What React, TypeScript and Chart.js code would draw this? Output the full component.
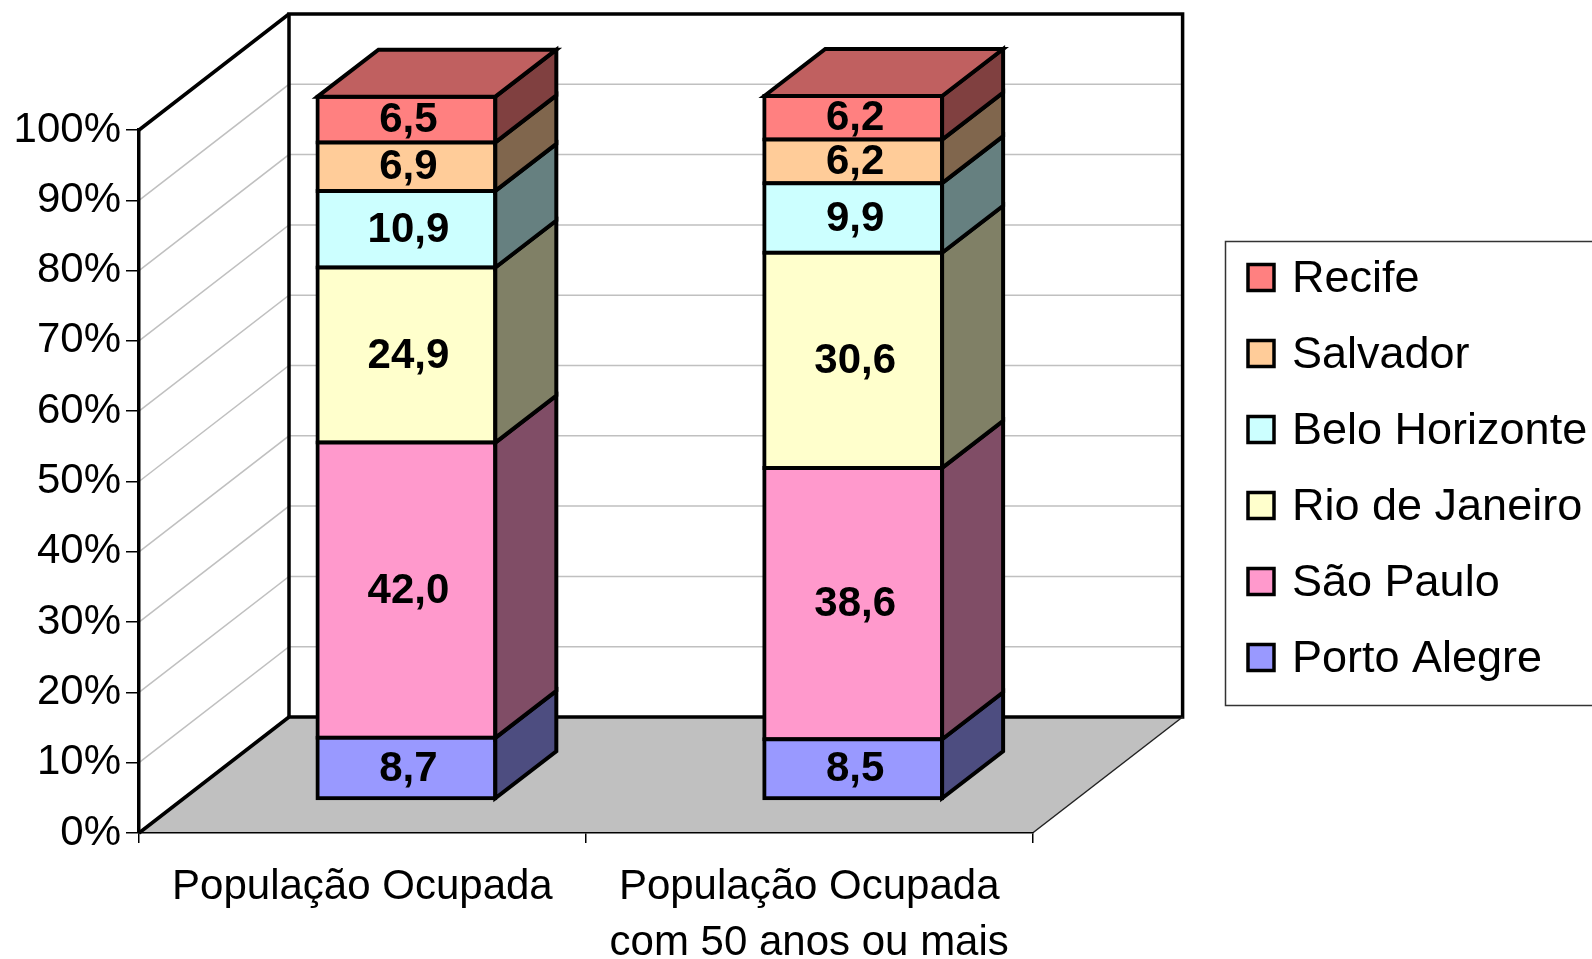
import React, { useEffect, useRef } from 'react';
import { Chart, registerables } from 'chart.js';

Chart.register(...registerables);

// ---------- data ----------
const categories = [['População Ocupada'], ['População Ocupada', 'com 50 anos ou mais']];
const cities = ['Porto Alegre', 'São Paulo', 'Rio de Janeiro', 'Belo Horizonte', 'Salvador', 'Recife'];
const portoAlegre = [8.7, 8.5];
const saoPaulo = [42.0, 38.6];
const rioDeJaneiro = [24.9, 30.6];
const beloHorizonte = [10.9, 9.9];
const salvador = [6.9, 6.2];
const recife = [6.5, 6.2];
const seriesValues = [portoAlegre, saoPaulo, rioDeJaneiro, beloHorizonte, salvador, recife];
const yTicks = [0, 10, 20, 30, 40, 50, 60, 70, 80, 90, 100];

// ---------- styles ----------
const frontColors = ['#9999FF', '#FF99CC', '#FFFFCC', '#CCFFFF', '#FFCC99', '#FF8080'];
const sideColors = ['#4D4D80', '#804D66', '#808066', '#668080', '#80664D', '#804040'];
const topColor = '#C06060';
const FONT = "'Liberation Sans', Arial, sans-serif";

const W = 1592;
const H = 959;
const WALL_DX = 150;
const WALL_DY = -116;
const BAR_SHIFT_X = 44;
const BAR_SHIFT_Y = -34;
const BAR_DX = 61;
const BAR_DY = -47;
const BORDER = 4;
const WALL_BORDER = 3.5;

function fmt(v: number) {
  return v.toFixed(1).replace('.', ',');
}

const threeD = {
  id: 'threeD',
  beforeDraw(chart: any) {
    const { ctx } = chart;
    const x = chart.scales.x;
    const y = chart.scales.y;
    const L = x.left;
    const R = x.right;
    const y0 = y.getPixelForValue(0);
    const yT = y.getPixelForValue(100);
    ctx.save();
    ctx.fillStyle = '#ffffff';
    ctx.fillRect(0, 0, W, H);
    // floor
    ctx.fillStyle = '#C0C0C0';
    ctx.beginPath();
    ctx.moveTo(L, y0);
    ctx.lineTo(R, y0);
    ctx.lineTo(R + WALL_DX, y0 + WALL_DY);
    ctx.lineTo(L + WALL_DX, y0 + WALL_DY);
    ctx.closePath();
    ctx.fill();
    // gridlines on side and back walls
    ctx.strokeStyle = '#C0C0C0';
    ctx.lineWidth = 1.5;
    for (const v of yTicks) {
      if (v === 0 || v === 100) continue;
      const py = y.getPixelForValue(v);
      ctx.beginPath();
      ctx.moveTo(L, py);
      ctx.lineTo(L + WALL_DX, py + WALL_DY);
      ctx.lineTo(R + WALL_DX, py + WALL_DY);
      ctx.stroke();
    }
    // walls outline
    ctx.strokeStyle = '#000';
    ctx.lineWidth = WALL_BORDER;
    ctx.lineJoin = 'miter';
    ctx.strokeRect(L + WALL_DX, yT + WALL_DY, R - L, y0 - yT);
    ctx.beginPath();
    ctx.moveTo(L, yT);
    ctx.lineTo(L + WALL_DX, yT + WALL_DY);
    ctx.moveTo(L, y0);
    ctx.lineTo(L + WALL_DX, y0 + WALL_DY);
    ctx.stroke();
    ctx.lineWidth = 1.5;
    ctx.strokeStyle = '#222';
    ctx.beginPath();
    ctx.moveTo(R, y0);
    ctx.lineTo(R + WALL_DX, y0 + WALL_DY);
    ctx.stroke();
    ctx.restore();
  },
  beforeDatasetsDraw(chart: any) {
    chart.ctx.save();
    chart.ctx.translate(BAR_SHIFT_X, BAR_SHIFT_Y);
  },
  afterDatasetsDraw(chart: any) {
    const { ctx } = chart;
    const n = chart.data.datasets.length;
    ctx.lineWidth = BORDER;
    ctx.strokeStyle = '#000';
    ctx.lineJoin = 'miter';
    for (let i = 0; i < n; i++) {
      const meta = chart.getDatasetMeta(i);
      meta.data.forEach((el: any) => {
        const p = el.getProps(['x', 'y', 'base', 'width'], true);
        const left = p.x - p.width / 2;
        const right = p.x + p.width / 2;
        const top = Math.min(p.y, p.base);
        const bot = Math.max(p.y, p.base);
        ctx.fillStyle = sideColors[i];
        ctx.beginPath();
        ctx.moveTo(right, top);
        ctx.lineTo(right + BAR_DX, top + BAR_DY);
        ctx.lineTo(right + BAR_DX, bot + BAR_DY);
        ctx.lineTo(right, bot);
        ctx.closePath();
        ctx.fill();
        ctx.stroke();
        if (i === n - 1) {
          ctx.fillStyle = topColor;
          ctx.beginPath();
          ctx.moveTo(left, top);
          ctx.lineTo(left + BAR_DX, top + BAR_DY);
          ctx.lineTo(right + BAR_DX, top + BAR_DY);
          ctx.lineTo(right, top);
          ctx.closePath();
          ctx.fill();
          ctx.stroke();
        }
      });
    }
    ctx.fillStyle = '#000';
    ctx.font = `bold 42px ${FONT}`;
    ctx.textAlign = 'center';
    ctx.textBaseline = 'middle';
    for (let i = 0; i < n; i++) {
      const meta = chart.getDatasetMeta(i);
      const data = chart.data.datasets[i].data;
      meta.data.forEach((el: any, j: number) => {
        const p = el.getProps(['x', 'y', 'base'], true);
        ctx.fillText(fmt(data[j]), p.x + 2, (p.y + p.base) / 2 + 1);
      });
    }
    ctx.restore();
  },
  afterDraw(chart: any) {
    const { ctx } = chart;
    const ds = chart.data.datasets;
    ctx.save();
    ctx.strokeStyle = '#333';
    ctx.lineWidth = 1.5;
    ctx.strokeRect(1225.5, 241.5, 420, 464);
    ctx.font = `45px ${FONT}`;
    ctx.textAlign = 'left';
    ctx.textBaseline = 'middle';
    for (let k = 0; k < ds.length; k++) {
      const i = ds.length - 1 - k;
      const cy = 277.5 + k * 76;
      ctx.fillStyle = ds[i].backgroundColor;
      ctx.fillRect(1248, cy - 13, 26, 26);
      ctx.lineWidth = 3.5;
      ctx.strokeStyle = '#000';
      ctx.strokeRect(1248, cy - 13, 26, 26);
      ctx.fillStyle = '#000';
      ctx.fillText(ds[i].label, 1292, cy + 2);
    }
    ctx.restore();
  },
};

export default function App() {
  const ref = useRef<HTMLCanvasElement>(null);
  useEffect(() => {
    document.body.style.margin = '0';
    const canvas = ref.current!;
    const chart = new Chart(canvas, {
      type: 'bar',
      data: {
        labels: categories as any,
        datasets: cities.map((c, i) => ({
          label: c,
          data: seriesValues[i],
          backgroundColor: frontColors[i],
          borderColor: '#000',
          borderWidth: BORDER,
          borderSkipped: false,
          inflateAmount: BORDER / 2,
          barPercentage: 0.398,
          categoryPercentage: 1,
          clip: false as any,
        })),
      },
      options: {
        animation: false,
        responsive: false,
        maintainAspectRatio: false,
        devicePixelRatio: 1,
        layout: { padding: { top: 130, right: W - 1032.6, left: 0, bottom: 0 } },
        plugins: { legend: { display: false }, tooltip: { enabled: false }, title: { display: false } },
        scales: {
          x: {
            stacked: true,
            grid: { display: true, drawOnChartArea: false, drawTicks: true, tickLength: 10, color: '#000', lineWidth: 1.5, offset: true },
            border: { display: true, color: '#000', width: 1.5 },
            ticks: { color: '#000', font: { family: FONT, size: 42, lineHeight: 1.333 }, padding: 16, maxRotation: 0, autoSkip: false },
            afterFit: (s: any) => { s.height = H - 833; },
          },
          y: {
            stacked: true,
            min: 0,
            max: 100,
            afterBuildTicks: (s: any) => { s.ticks = yTicks.map((v) => ({ value: v })); },
            grid: { display: true, drawOnChartArea: false, drawTicks: true, tickLength: 13, color: '#000', lineWidth: 1.5 },
            border: { display: true, color: '#000', width: WALL_BORDER },
            ticks: { color: '#000', font: { family: FONT, size: 42 }, padding: 5, callback: (v: any) => v + '%' },
            afterFit: (s: any) => { s.width = 139; },
          },
        },
      },
      plugins: [threeD],
    });
    return () => chart.destroy();
  }, []);
  return (
    <div style={{ position: 'absolute', left: 0, top: 0, width: W, height: H }}>
      <canvas ref={ref} width={W} height={H} style={{ display: 'block', width: W, height: H }} />
    </div>
  );
}
